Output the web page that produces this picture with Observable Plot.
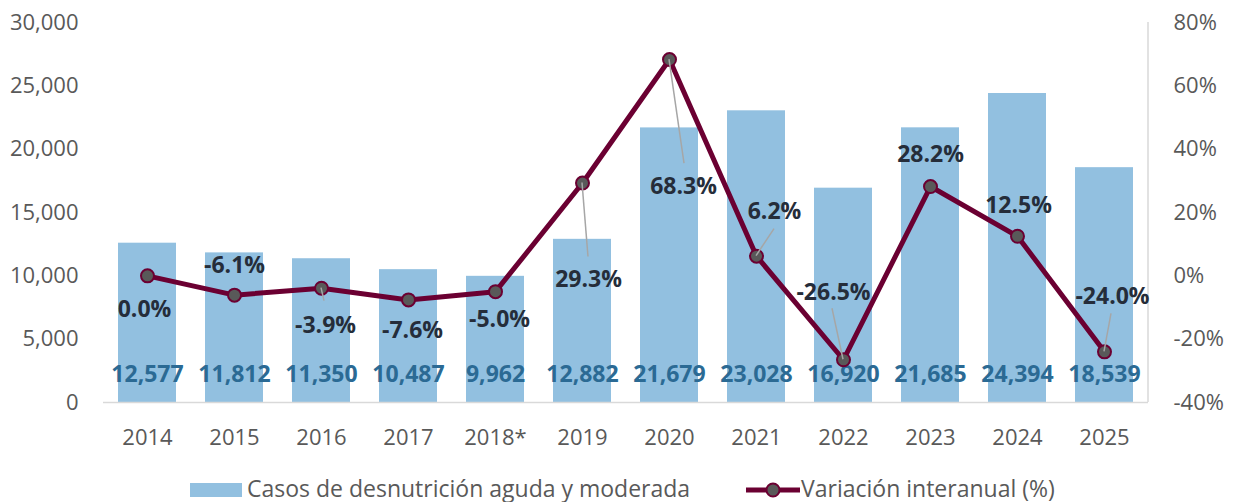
<!DOCTYPE html>
<html>
<head>
<meta charset="utf-8">
<script src="https://cdn.jsdelivr.net/npm/d3@7"></script>
<script src="https://cdn.jsdelivr.net/npm/@observablehq/plot@0.6"></script>
<style>
  body { margin: 0; background: #fff; font-family: "Open Sans", sans-serif; }
  #legend { position: relative; width: 1236px; height: 28px; margin-top: 0px; color: #595959; font-size: 23px; }
  #legend .item { position: absolute; top: 0; height: 28px; line-height: 28px; white-space: nowrap; }
</style>
</head>
<body>
<div id="chart"></div>
<div id="legend">
  <div class="item" style="left:190px;"><span style="display:inline-block;width:52px;height:14px;background:#92c0e0;vertical-align:middle;margin-right:5px;position:relative;top:-1px;"></span>Casos de desnutrición aguda y moderada</div>
  <div class="item" style="left:745px;"><svg width="56" height="16" style="vertical-align:middle;position:relative;top:-1px;"><line x1="1" y1="8" x2="55" y2="8" stroke="#6b0032" stroke-width="5"/><circle cx="28" cy="8" r="6.5" fill="#595959" stroke="#6b0032" stroke-width="2"/></svg>Variación interanual (%)</div>
</div>
<script>
// ---- data ----
const years = ["2014","2015","2016","2017","2018*","2019","2020","2021","2022","2023","2024","2025"];
const cases = [12577,11812,11350,10487,9962,12882,21679,23028,16920,21685,24394,18539];
const variation = [0.0,-6.1,-3.9,-7.6,-5.0,29.3,68.3,6.2,-26.5,28.2,12.5,-24.0];
const leftTicks = [0,5000,10000,15000,20000,25000,30000];
const rightTicks = [-40,-20,0,20,40,60,80];

// ---- label placement (pixel offsets from each point) ----
const labelDx = [-3, 0, 4, 4, 4, 6, 14, 18, -10, 0, 1, 8];
const labelDy = [34, -30, 37, 31, 28, 97, 127, -45, -67, -32, -31, -55];
const leaderEnd = [null, null, [3,13], null, null, [6,74], [15,104], [18,-27], [-11,-51], null, null, [7,-38]];

// right axis maps -40..80 % onto the 0..30000 left scale
const pctToY = p => (p + 40) * 250;
const yToPct = v => v / 250 - 40;

const data = years.map((y, i) => ({year: y, cases: cases[i], pct: variation[i], yv: pctToY(variation[i]), i}));

const BAR = "#92c0e0", LINE = "#6b0032", DOT = "#595959";
const PCT_COL = "#252d3a", VAL_COL = "#2b6a94";

const marks = [
  Plot.barY(data, {x: "year", y: "cases", fill: BAR}),
  Plot.ruleY([0], {stroke: "#d9d9d9", strokeWidth: 1.5}),
  // right axis line
  (index, scales, values, dim) => {
    const g = d3.create("svg:g");
    g.append("line")
      .attr("x1", dim.width - dim.marginRight).attr("x2", dim.width - dim.marginRight)
      .attr("y1", dim.marginTop).attr("y2", dim.height - dim.marginBottom)
      .attr("stroke", "#d9d9d9").attr("stroke-width", 1.5);
    return g.node();
  },
  Plot.axisY(leftTicks, {anchor: "left", tickSize: 0, tickPadding: 25, tickFormat: d3.format(","), label: null}),
  Plot.axisY(rightTicks.map(pctToY), {anchor: "right", tickSize: 0, tickPadding: 25, tickFormat: d => `${yToPct(d)}%`, label: null}),
  Plot.axisX({tickSize: 0, tickPadding: 27, label: null}),
  Plot.text(data, {x: "year", y: 0, text: d => d3.format(",")(d.cases), dy: -28, fill: VAL_COL, fontWeight: "bold", fontSize: 23}),
  Plot.line(data, {x: "year", y: "yv", stroke: LINE, strokeWidth: 5}),
  Plot.dot(data, {x: "year", y: "yv", r: 6.5, fill: DOT, stroke: LINE, strokeWidth: 2}),
  // leader lines from points to labels
  (index, scales) => {
    const g = d3.create("svg:g");
    const bw = scales.x.bandwidth ? scales.x.bandwidth() / 2 : 0;
    data.forEach((d, i) => {
      const e = leaderEnd[i];
      if (!e) return;
      const px = scales.x(d.year) + bw, py = scales.y(d.yv);
      g.append("line").attr("x1", px).attr("y1", py)
        .attr("x2", px + e[0]).attr("y2", py + e[1])
        .attr("stroke", "#a6a6a6").attr("stroke-width", 1.5);
    });
    return g.node();
  },
  ...data.map((d, i) => Plot.text([d], {
    x: "year", y: "yv", text: v => `${v.pct.toFixed(1)}%`,
    dx: labelDx[i], dy: labelDy[i], fill: PCT_COL, fontWeight: "bold", fontSize: 23
  }))
];

const chart = Plot.plot({
  width: 1236,
  height: 474,
  marginLeft: 103,
  marginRight: 88,
  marginTop: 22,
  marginBottom: 72,
  style: {fontFamily: "Open Sans, sans-serif", fontSize: "22px", color: "#595959", background: "#fff"},
  x: {domain: years, paddingInner: 0.33, paddingOuter: 0.165, axis: null},
  y: {domain: [0, 30000], axis: null},
  marks
});
document.getElementById("chart").appendChild(chart);
</script>
</body>
</html>
